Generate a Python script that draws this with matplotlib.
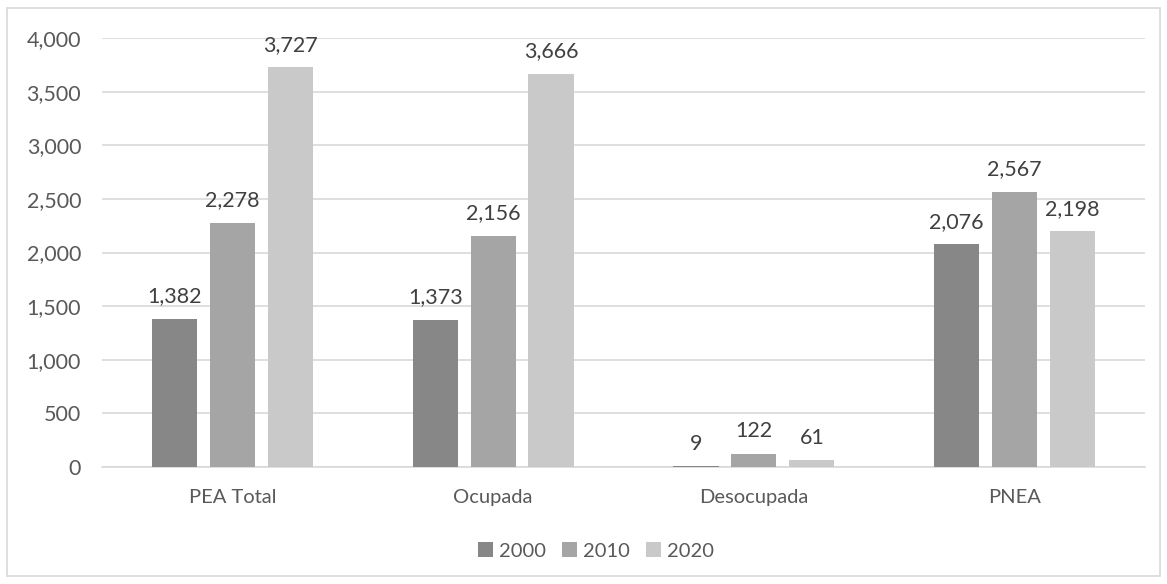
import matplotlib
matplotlib.use("Agg")
import matplotlib.pyplot as plt
import numpy as np
from matplotlib.patches import Rectangle

categories = ["PEA Total", "Ocupada", "Desocupada", "PNEA"]
years = ["2000", "2010", "2020"]
v2000 = [1382, 1373, 9, 2076]
v2010 = [2278, 2156, 122, 2567]
v2020 = [3727, 3666, 61, 2198]
yticks = [0, 500, 1000, 1500, 2000, 2500, 3000, 3500, 4000]

colors = ["#878787", "#a5a5a5", "#c9c9c9"]
txt = "#595959"
plt.rcParams['font.family'] = ['Lato', 'DejaVu Sans']

fig = plt.figure(figsize=(11.67, 5.84), dpi=100)
fig.patches.append(Rectangle((7/1167, 8/584), 1153/1167, 568/584, transform=fig.transFigure,
                             fill=False, edgecolor="#d9d9d9", linewidth=1.2))
ax = fig.add_axes([102/1167, 1 - 467/584, 1043/1167, (467 - 38)/584])

x = np.arange(len(categories))
w = 0.173
step = 0.222
for i, (vals, c, lab) in enumerate(zip([v2000, v2010, v2020], colors, years)):
    bars = ax.bar(x + (i - 1) * step, vals, w, color=c, label=lab, zorder=3)
    for b, v in zip(bars, vals):
        ax.annotate(f"{v:,}", (b.get_x() + b.get_width() / 2, v), xytext=(0, 9),
                    textcoords="offset points", ha="center", va="bottom",
                    fontsize=15.5, color="#404040")

ax.set_xlim(-0.5, 3.5)
ax.set_ylim(0, 4000)
ax.set_yticks(yticks)
ax.set_yticklabels([f"{t:,}" for t in yticks], fontsize=15.5, color=txt)
ax.set_xticks(x)
ax.set_xticklabels(categories, fontsize=14.5, color=txt)
ax.tick_params(axis="y", length=0, pad=15)
ax.tick_params(axis="x", length=0, pad=16)
ax.yaxis.grid(True, color="#d9d9d9", linewidth=1.2, zorder=0)
for s in ["top", "right", "left"]:
    ax.spines[s].set_visible(False)
ax.spines["bottom"].set_color("#d9d9d9")
ax.spines["bottom"].set_linewidth(1.2)

h, l = ax.get_legend_handles_labels()
leg = fig.legend(h, l, loc="center", bbox_to_anchor=(596/1167, 1 - 551/584), ncol=3,
                 frameon=False, fontsize=14.5, handlelength=0.75, handleheight=0.75,
                 handletextpad=0.3, columnspacing=0.8)
for t in leg.get_texts():
    t.set_color(txt)

fig.savefig("out.png", dpi=100)
